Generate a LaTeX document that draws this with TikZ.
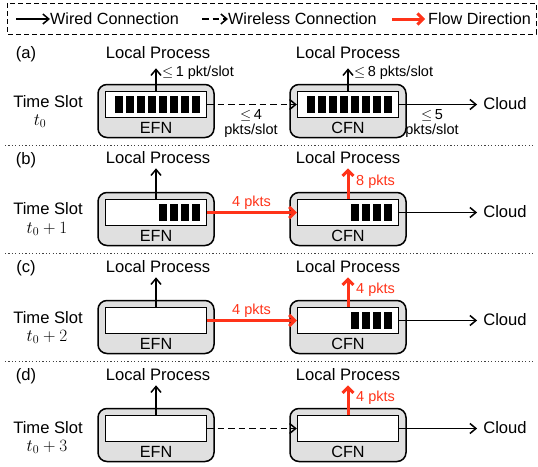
\documentclass[tikz,border=0pt]{standalone}
\usepackage{fontspec}
\setmainfont{Liberation Sans}
\usetikzlibrary{arrows.meta,calc}

\definecolor{flowred}{RGB}{255,51,25}
\definecolor{boxgray}{RGB}{224,224,224}

\newcommand\bigsz{\fontsize{16.6}{19}\selectfont}
\newcommand\midsz{\fontsize{16.2}{18}\selectfont}
\newcommand\smallsz{\fontsize{14.5}{15}\selectfont}

\tikzset{
  wired/.style={line width=1.5pt, -{Straight Barb[length=6pt,width=10pt]}},
  wireless/.style={wired, dash pattern=on 6.5pt off 4pt},
  flow/.style={draw=flowred, line width=3pt, -{Straight Barb[length=5.5pt,width=11pt]}},
  outerbox/.style={draw, line width=1.5pt, fill=boxgray, rounded corners=9pt,
    minimum width=116pt, minimum height=53pt, inner sep=0pt},
  queuebox/.style={draw, line width=1.4pt, fill=white,
    minimum width=101pt, minimum height=26pt, inner sep=0pt},
  pkt/.style={fill=black},
  big/.style={font=\bigsz, inner sep=1pt},
  lp/.style={font=\bigsz, inner sep=4pt},
  cloudlbl/.style={font=\bigsz, inner xsep=6pt, inner ysep=1pt},
  small/.style={font=\smallsz, inner sep=1pt},
  redlbl/.style={small, text=flowred, anchor=west},
  legendlbl/.style={font=\midsz, anchor=west, inner sep=0pt},
  separator/.style={line width=1pt, dash pattern=on 1.2pt off 2.2pt, black!75},
  legendframe/.style={line width=0.9pt, dash pattern=on 5pt off 3pt},
}

% #1 node name, #2 centre x, #3 top of the time-slot band, #4 caption, #5 queued packets
\newcommand\fognode[5]{%
  \node[outerbox] (#1) at (#2,#3+74) {};
  \node[queuebox] (#1q) at (#2,#3+67.5) {};
  \node[font=\midsz, inner sep=0pt] (#1cap) at (#2,#3+91) {#4};
  \ifnum#5>0
    \foreach \k in {1,...,#5}{%
      \fill[pkt] ($(#1q.east)+({-7-(\k-1)*11},-8.5)$) rectangle ++(-8.3,17);
    }%
  \fi
}

\begin{document}
\begin{tikzpicture}[x=1pt,y=-1pt]
\useasboundingbox (0,0) rectangle (538,466);

% ---------- legend ----------
\draw[legendframe] (7,3) rectangle (536,34);
\coordinate (lgWiredTail) at (16,19);
\node[legendlbl] (lgWired) at (50,19) {Wired Connection};
\draw[wired] (lgWiredTail) -- (lgWired.west);
\coordinate (lgWlessTail) at (202,19);
\node[legendlbl] (lgWless) at (228,19) {Wireless Connection};
\draw[wireless] (lgWlessTail) -- (lgWless.west);
\coordinate (lgFlowTail) at (392,19);
\coordinate (lgFlowHead) at (425,19);
\node[legendlbl] (lgFlow) at (428,19) {Flow Direction};
\draw[flow] (lgFlowTail) -- (lgFlowHead);

% ---------- separators ----------
\foreach \yy in {145,253,361} \draw[separator] (5,\yy) -- (535,\yy);

% ---------- (a) time slot t0 ----------
\node[big] (labA) at (26,54) {(a)};
\node[big] (tsA) at (48,102) {Time Slot};
\node[big] (tA) at (40,121) {$t_0$};
\fognode{efnA}{156}{37}{EFN}{8}
\fognode{cfnA}{348}{37}{CFN}{8}
\node[lp] (lpeA) at (158,53) {Local Process};
\node[lp] (lpcA) at (348,53) {Local Process};
\node[cloudlbl] (cloudA) at (505,103.5) {Cloud};
\draw[wired, shorten >=5pt] (efnAq.north) -- (efnAq.north |- lpeA.south);
\draw[wired, shorten >=5pt] (cfnAq.north) -- (cfnAq.north |- lpcA.south);
\draw[wireless] (efnAq.east) -- (cfnAq.west);
\draw[wired] (cfnAq.east) -- (cfnAq.east -| cloudA.west);
\node[small, anchor=west] (rateA1) at (161,73) {$\leq$\,1 pkt/slot};
\node[small, anchor=west] (rateA2) at (353,73) {$\leq$\,8 pkts/slot};
\node[small, align=center] (rateA3) at (251,124) {$\leq$\,4\\pkts/slot};
\node[small, align=center] (rateA4) at (432,124) {$\leq$\,5\\pkts/slot};

% ---------- (b) time slot t0+1 ----------
\node[big] (labB) at (26,160) {(b)};
\node[big] (tsB) at (48,209) {Time Slot};
\node[big] (tB) at (47,229) {$t_0+1$};
\fognode{efnB}{156}{145}{EFN}{4}
\fognode{cfnB}{348}{145}{CFN}{4}
\node[lp] (lpeB) at (158,158) {Local Process};
\node[lp] (lpcB) at (348,158) {Local Process};
\node[cloudlbl] (cloudB) at (505,211.5) {Cloud};
\draw[wired] (efnBq.north) -- (efnBq.north |- lpeB.south);
\draw[flow] (cfnBq.north) -- (cfnBq.north |- lpcB.south);
\draw[flow] (efnBq.east) -- (cfnBq.west);
\draw[wired] (cfnBq.east) -- (cfnBq.east -| cloudB.west);
\node[redlbl] (flowB1) at (231,202.5) {4 pkts};
\node[redlbl] (flowB2) at (355,182) {8 pkts};

% ---------- (c) time slot t0+2 ----------
\node[big] (labC) at (26,268) {(c)};
\node[big] (tsC) at (48,318) {Time Slot};
\node[big] (tC) at (47,337) {$t_0+2$};
\fognode{efnC}{156}{253}{EFN}{0}
\fognode{cfnC}{348}{253}{CFN}{4}
\node[lp] (lpeC) at (158,267) {Local Process};
\node[lp] (lpcC) at (348,267) {Local Process};
\node[cloudlbl] (cloudC) at (505,319.5) {Cloud};
\draw[wired] (efnCq.north) -- (efnCq.north |- lpeC.south);
\draw[flow] (cfnCq.north) -- (cfnCq.north |- lpcC.south);
\draw[flow] (efnCq.east) -- (cfnCq.west);
\draw[wired] (cfnCq.east) -- (cfnCq.east -| cloudC.west);
\node[redlbl] (flowC1) at (231,310.5) {4 pkts};
\node[redlbl] (flowC2) at (355,290) {4 pkts};

% ---------- (d) time slot t0+3 ----------
\node[big] (labD) at (26,376) {(d)};
\node[big] (tsD) at (48,428) {Time Slot};
\node[big] (tD) at (47,447) {$t_0+3$};
\fognode{efnD}{156}{361}{EFN}{0}
\fognode{cfnD}{348}{361}{CFN}{0}
\node[lp] (lpeD) at (158,375) {Local Process};
\node[lp] (lpcD) at (348,375) {Local Process};
\node[cloudlbl] (cloudD) at (505,427.5) {Cloud};
\draw[wired] (efnDq.north) -- (efnDq.north |- lpeD.south);
\draw[flow] (cfnDq.north) -- (cfnDq.north |- lpcD.south);
\draw[wireless] (efnDq.east) -- (cfnDq.west);
\draw[wired] (cfnDq.east) -- (cfnDq.east -| cloudD.west);
\node[redlbl] (flowD2) at (355,398) {4 pkts};
\end{tikzpicture}
\end{document}
